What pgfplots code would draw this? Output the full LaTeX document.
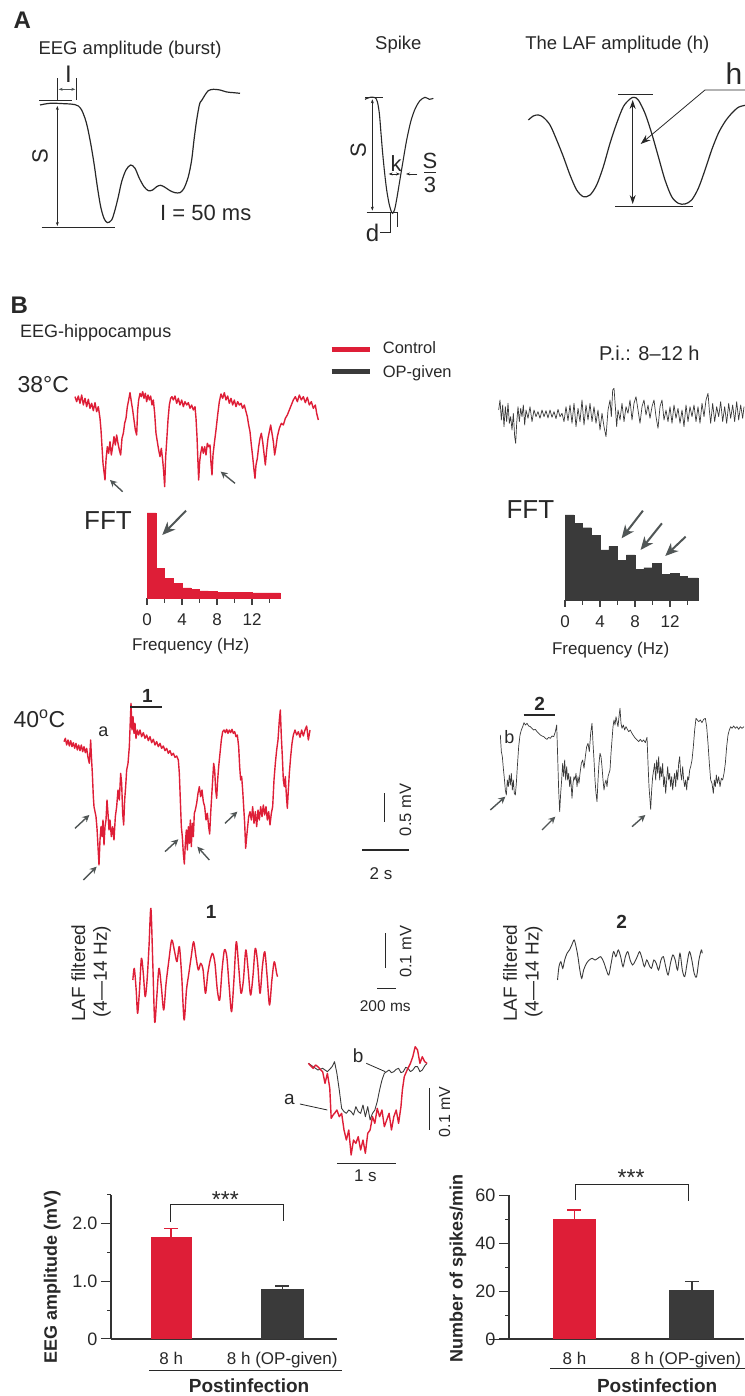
\documentclass[border=0pt]{standalone}
\usepackage{fontspec}
\setmainfont{Liberation Sans}
\usepackage{pgfplots}
\pgfplotsset{compat=1.18}
\usetikzlibrary{arrows.meta}

\definecolor{ctrl}{RGB}{222,30,55}
\definecolor{opg}{RGB}{58,58,58}
\definecolor{arr}{RGB}{80,86,86}
\definecolor{ink}{RGB}{40,40,40}

\tikzset{
  fs/.style={font=\fontsize{#1}{#1}\selectfont, text=ink},
  fsb/.style={font=\fontsize{#1}{#1}\selectfont\bfseries, text=ink},
  garr/.style={arr, line width=1.4pt, -{Stealth[length=7pt,width=7pt,inset=2.5pt]}},
  bigarr/.style={arr, line width=2pt, -{Stealth[length=13pt,width=11pt,inset=4pt]}},
  dbl/.style={ink, line width=0.6pt, {Stealth[length=4pt,width=3pt]}-{Stealth[length=4pt,width=3pt]}},
  thin/.style={ink, line width=0.8pt},
}
\pgfplotsset{
  % one axis per region of the figure, data read in that region's units
  zoomax/.style={anchor=south west, scale only axis, hide axis, y dir=reverse,
    clip=false, xmin=0, ymin=0},
  ctrltrace/.style={ctrl, line width=1.4pt, line join=round},
  optrace/.style={opg, line width=0.7pt, line join=round},
  fftax/.style={anchor=south west, scale only axis, width=133pt, height=85pt,
    xmin=0, xmax=15.2, ymin=0, ymax=100,
    axis x line=bottom, axis y line=none, axis line style={-, line width=1.8pt, black!75},
    xtick={0,4,8,12}, minor xtick={2,6,10,14}, tick align=outside,
    major tick length=7pt, minor tick length=5pt,
    every tick/.style={line width=1.5pt, black!75},
    /pgf/number format/assume math mode=true,
    xticklabel style={font=\fontsize{17}{17}\selectfont, text=ink, yshift=-5pt}, clip=false},
  barax/.style={anchor=south west, scale only axis, height=144pt,
    axis x line=bottom, axis y line=left, axis line style={-, line width=1.2pt, black!80},
    xtick={0,1}, x tick style={draw=none},
    y tick style={line width=1pt, black!80}, tick align=outside,
    major tick length=10pt, minor tick length=4pt,
    /pgf/number format/assume math mode=true,
    ticklabel style={font=\fontsize{18}{18}\selectfont, text=ink},
    xticklabel style={font=\fontsize{17}{17}\selectfont}, clip=false},
  ebar/.style={ybar, bar shift=0pt, fill=#1, draw=none,
    error bars/.cd, y dir=plus, y explicit,
    error bar style={#1, line width=1.5pt},
    error mark options={#1, rotate=90, mark size=7pt, line width=1.5pt},
    /pgfplots/.cd},
}

\begin{document}
\begin{tikzpicture}
\path[use as bounding box] (0,0) rectangle (744pt,1396pt);

% ---------------- A: EEG amplitude (burst)
\begin{axis}[zoomax, at={(0pt,1146pt)}, width=260pt, height=250pt, xmax=780, ymax=750]
\addplot[ink, line width=1.2pt, smooth] coordinates {
(120,315) (135,312) (150,310) (170,310) (190,311) (210,312) (225,314) (235,318)
(245,330) (255,355) (262,380) (272,430) (282,490) (292,560) (302,620) (312,655)
(322,668) (335,660) (345,630) (355,590) (365,545) (378,510) (392,495) (405,505)
(418,535) (432,560) (445,572) (458,570) (470,560) (482,556) (495,562) (510,572)
(525,578) (540,578) (552,565) (565,530) (575,480) (582,420) (590,360) (598,315)
(602,305) (606,300) (615,285) (625,272) (640,268) (660,270) (680,276) (700,278) (720,280)};
\node[fsb=24] at (67,60) {A};
\node[fs=18.5, anchor=west] at (105,150) {EEG amplitude (burst)};
\draw[thin] (118,302) -- (215,302);
\draw[thin] (172,235) -- (172,300);
\draw[thin] (230,235) -- (230,300);
\draw[dbl, arr] (176,268) -- (226,268);
\node[fs=24] at (205,222) {I};
\draw[dbl] (172,318) -- (172,678);
\draw[thin] (125,683) -- (345,683);
\node[fs=22, rotate=90] at (120,470) {S};
\node[fs=22, anchor=west] at (470,640) {I = 50 ms};
\end{axis}

% ---------------- A: Spike and LAF amplitude
\begin{axis}[zoomax, at={(330pt,1146pt)}, width=414pt, height=250pt, xmax=1242, ymax=750]
\addplot[ink, line width=1.1pt, smooth] coordinates {
(105,298) (120,292) (135,293) (142,305) (148,340) (153,400) (158,460) (164,520)
(170,570) (177,610) (183,632) (188,640) (194,628) (200,598) (208,550) (218,490)
(230,420) (243,362) (256,325) (270,302) (285,292) (298,298) (310,295)};
\node[fs=18.5] at (205,135) {Spike};
\draw[thin] (105,292) -- (160,292);
\draw[thin] (110,637) -- (205,637);
\draw[dbl] (127,298) -- (127,632);
\node[fs=22, rotate=90] at (85,450) {S};
\node[fs=22] at (198,492) {k};
\draw[dbl] (176,522) -- (210,522);
\draw[ink, line width=0.6pt, -{Stealth[length=4pt,width=3pt]}] (262,522) -- (228,522);
\node[fs=22] at (300,482) {S};
\draw[ink, line width=1.2pt] (282,518) -- (318,518);
\node[fs=22] at (300,555) {3};
\draw[thin] (180,640) -- (180,680);
\draw[thin] (202,640) -- (202,680);
\draw[thin] (150,698) -- (180,698) -- (180,680);
\node[fs=24] at (128,700) {d};

\addplot[ink, line width=1.2pt, smooth] coordinates {
(595,360) (610,348) (625,345) (640,352) (660,375) (680,420) (700,470) (720,525)
(740,570) (760,590) (780,585) (800,555) (820,500) (840,430) (860,370) (880,320)
(900,297) (912,292) (925,300) (945,340) (965,400) (985,470) (1005,540) (1025,590)
(1045,610) (1065,612) (1085,600) (1105,565) (1125,510) (1145,450) (1165,400)
(1185,365) (1205,340) (1225,322) (1245,316)};
\node[fs=18.5] at (862,135) {The LAF amplitude (h)};
\draw[thin] (865,282) -- (970,282);
\draw[thin] (855,618) -- (1090,618);
\draw[ink, line width=0.8pt, {Stealth[length=9pt,width=6pt]}-{Stealth[length=9pt,width=6pt]}] (908,300) -- (908,612);
\draw[ink, line width=0.8pt, -{Stealth[length=10pt,width=7pt]}] (1250,270) -- (1125,270) -- (932,432);
\node[fs=30] at (1212,222) {h};
\end{axis}

% ---------------- B: 38 C, control
\begin{axis}[zoomax, at={(0pt,876pt)}, width=372pt, height=230pt, xmax=1116, ymax=690]
\addplot[ctrltrace] coordinates {
(225,320) (230,335) (235,318) (240,340) (245,315) (250,345) (255,325) (260,350)
(265,328) (270,355) (275,340) (280,362) (285,338) (290,365) (295,350) (300,385)
(303,420) (306,470) (309,520) (312,545) (315,570) (318,510) (322,470) (326,490)
(330,455) (334,495) (338,470) (342,440) (346,465) (350,435) (354,460) (358,480)
(362,495) (366,445) (370,430) (374,400) (378,385) (382,350) (386,330) (390,308)
(394,335) (398,360) (402,390) (406,420) (410,435) (413,360) (416,330) (420,310)
(424,320) (428,305) (432,325) (436,310) (440,335) (444,315) (448,330) (452,318)
(456,345) (460,330) (464,370) (468,430) (472,455) (476,480) (480,500) (484,475)
(488,510) (491,545) (494,590) (497,500) (500,455) (504,390) (508,345) (512,325)
(516,320) (520,330) (525,318) (530,340) (535,325) (540,345) (545,330) (550,350)
(555,335) (560,345) (565,338) (570,355) (575,345) (580,360) (585,350) (588,385)
(591,440) (594,520) (596,570) (599,515) (602,490) (606,470) (610,490) (614,470)
(618,495) (622,460) (626,470) (630,465) (633,520) (636,555) (639,495) (643,460)
(648,420) (653,375) (658,335) (663,312) (668,325) (673,308) (678,330) (683,318)
(688,340) (693,325) (698,345) (703,330) (708,350) (713,335) (718,345) (723,340)
(728,355) (733,345) (738,365) (742,380) (746,405) (750,425) (754,465) (758,500)
(762,540) (765,565) (768,525) (772,505) (776,470) (780,445) (784,430) (788,455)
(792,490) (796,525) (800,480) (804,445) (808,425) (812,405) (816,430) (820,455)
(824,495) (828,470) (832,440) (838,415) (844,400) (850,405) (856,385) (862,375)
(868,360) (874,345) (880,330) (886,320) (892,335) (898,315) (904,330) (910,320)
(916,338) (922,322) (928,345) (934,335) (940,355) (946,345) (950,370) (955,390)};
\node[fsb=24] at (58,45) {B};
\node[fs=18, anchor=west] at (50,130) {EEG-hippocampus};
\node[fs=23, anchor=west] at (42,285) {38°C};
\draw[garr] (368,605) -- (330,570);
\draw[garr] (705,580) -- (662,545);
\draw[ctrl, line width=5pt] (995,180) -- (1110,180);
\draw[opg, line width=5pt] (995,245) -- (1110,245);
\end{axis}

% ---------------- B: 38 C, OP-given
\begin{axis}[zoomax, at={(372pt,876pt)}, width=372pt, height=230pt, xmax=1116, ymax=690]
\addplot[optrace] coordinates {
(380,360) (384,330) (388,390) (392,345) (396,410) (400,350) (404,395) (408,340)
(412,400) (416,380) (420,420) (424,370) (428,440) (431,460) (434,400) (438,350)
(442,395) (446,355) (450,380) (454,345) (458,405) (462,360) (468,385) (474,350)
(480,395) (486,360) (492,380) (498,365) (504,385) (510,360) (516,380) (522,362)
(528,384) (534,360) (540,382) (546,365) (552,386) (558,358) (564,380) (570,370)
(576,395) (582,350) (588,392) (594,345) (600,400) (606,340) (612,410) (618,355)
(624,395) (630,330) (636,405) (642,345) (648,390) (654,340) (660,395) (666,350)
(672,400) (678,360) (684,420) (690,370) (696,410) (702,440) (708,360) (714,330)
(718,380) (722,300) (726,295) (730,350) (734,410) (738,360) (744,390) (750,340)
(756,395) (762,350) (768,370) (774,330) (780,390) (786,340) (792,320) (798,360)
(804,400) (810,350) (816,330) (822,375) (828,345) (834,385) (840,350) (846,330)
(852,380) (858,415) (864,350) (870,330) (876,390) (882,360) (888,395) (894,350)
(900,400) (906,345) (912,385) (918,355) (924,400) (930,360) (936,410) (942,345)
(948,395) (954,350) (960,380) (966,345) (972,395) (978,350) (984,400) (990,340)
(996,380) (1002,330) (1008,310) (1012,360) (1016,400) (1022,340) (1028,395)
(1034,350) (1040,380) (1046,335) (1052,395) (1058,350) (1064,400) (1070,340)
(1076,385) (1082,345) (1088,395) (1094,335) (1100,390) (1106,345) (1112,385) (1116,350)};
\node[fs=16.5, anchor=west] at (22,172) {Control};
\node[fs=16.5, anchor=west] at (22,250) {OP-given};
\node[fs=20] at (832,190) {P.i.: 8–12 h};
\end{axis}

% ---------------- FFT labels and arrows
\begin{axis}[zoomax, at={(0pt,736pt)}, width=744pt, height=170pt, xmax=1568, ymax=510]
\addplot[draw=none] coordinates {(0,0)};
\node[fs=26, anchor=west] at (170,92) {FFT};
\node[fs=26, anchor=west] at (1060,60) {FFT};
\node[fs=17] at (402,467) {Frequency (Hz)};
\node[fs=17] at (1287,480) {Frequency (Hz)};
\draw[bigarr] (392,62) -- (342,135);
\draw[bigarr] (1355,62) -- (1310,145);
\draw[bigarr] (1395,100) -- (1350,180);
\draw[bigarr] (1445,140) -- (1402,198);
\end{axis}

% ---------------- FFT, control
\begin{axis}[fftax, at={(147pt,798pt)}]
\addplot[ybar interval, fill=ctrl, draw=ctrl, line width=0.3pt] coordinates {
(0,100) (1,35) (2,23.5) (3,17) (4,12) (5,10) (6,8.5) (7,7.5) (8,7) (9,6.5)
(10,6.5) (11,6.5) (12,6) (13,6) (14,6) (15.2,6)};
\end{axis}

% ---------------- FFT, OP-given
\begin{axis}[fftax, at={(565pt,796pt)}]
\addplot[ybar interval, fill=opg, draw=opg, line width=0.3pt] coordinates {
(0,100) (1,90) (2,85) (3,76) (4,59) (5,63) (6,47) (7,53) (8,36) (9,38)
(10,43) (11,30) (12,31) (13,28) (14,26) (15.2,26)};
\end{axis}

% ---------------- B: 40 C, control
\begin{axis}[zoomax, at={(0pt,496pt)}, width=372pt, height=220pt, xmax=1116, ymax=660]
\addplot[ctrltrace] coordinates {
(192,185) (196,175) (200,195) (204,180) (208,198) (212,182) (216,200) (220,188)
(224,205) (228,190) (232,210) (236,195) (240,212) (244,195) (248,215) (252,200)
(256,218) (260,205) (264,232) (268,250) (272,180) (274,225) (277,280) (280,350)
(282,380) (285,395) (288,410) (291,445) (294,500) (297,555) (300,480) (303,440)
(306,470) (309,420) (312,495) (315,440) (318,420) (321,360) (324,400) (327,450)
(330,420) (334,470) (338,440) (342,480) (346,410) (350,380) (354,330) (358,360)
(362,280) (365,310) (368,400) (371,435) (374,360) (377,320) (380,270) (384,250)
(388,200) (391,120) (393,70) (396,150) (399,110) (402,160) (405,130) (408,175)
(412,150) (416,165) (420,150) (425,170) (430,158) (435,175) (440,165) (445,182)
(450,170) (455,188) (460,178) (465,195) (470,185) (475,200) (480,190) (485,205)
(490,198) (495,212) (500,205) (505,220) (510,212) (515,226) (520,220) (525,232)
(530,228) (535,240) (538,280) (541,360) (544,440) (547,470) (550,520) (553,552)
(556,490) (559,450) (562,510) (565,440) (568,490) (571,420) (574,500) (577,430)
(580,470) (583,400) (586,390) (590,370) (594,340) (598,320) (602,350) (606,330)
(610,365) (614,380) (618,420) (622,400) (626,440) (629,462) (632,400) (635,350)
(638,300) (641,250) (644,270) (647,330) (650,355) (653,300) (656,260) (660,220)
(664,180) (668,155) (672,150) (676,158) (680,148) (684,160) (688,150) (692,158)
(696,148) (700,160) (704,155) (708,170) (712,165) (716,200) (719,260) (722,300)
(725,290) (728,330) (731,380) (734,430) (737,505) (740,470) (743,440) (746,410)
(750,395) (754,420) (758,380) (762,430) (766,395) (770,440) (774,390) (778,420)
(782,380) (786,410) (790,375) (794,405) (798,380) (802,420) (806,395) (810,435)
(814,400) (818,380) (822,300) (826,250) (830,210) (834,180) (838,120) (841,90)
(844,170) (847,230) (850,300) (853,320) (856,290) (859,345) (862,385) (865,330)
(868,280) (872,230) (876,190) (880,165) (885,150) (890,165) (895,155) (900,172)
(905,150) (910,168) (915,150) (920,138) (925,180) (930,150)};
\node[fs=23, anchor=west] at (30,115) {40\textsuperscript{o}C};
\node[fs=18] at (310,155) {a};
\draw[ink, line width=2pt] (390,82) -- (485,82);
\node[fsb=19] at (442,48) {1};
\draw[garr] (225,445) -- (268,405);
\draw[garr] (250,600) -- (290,560);
\draw[garr] (495,515) -- (535,478);
\draw[garr] (628,540) -- (592,500);
\draw[garr] (675,430) -- (712,395);
\end{axis}

% ---------------- B: 40 C, OP-given, and scale bars
\begin{axis}[zoomax, at={(372pt,496pt)}, width=372pt, height=220pt, xmax=1116, ymax=660]
\addplot[optrace] coordinates {
(385,165) (388,215) (391,230) (394,265) (397,295) (400,330) (403,345) (406,300)
(409,320) (412,285) (415,315) (418,280) (421,330) (424,300) (427,340) (430,345)
(433,310) (436,260) (440,200) (444,165) (448,150) (452,140) (456,128) (460,135)
(465,130) (470,138) (475,140) (480,145) (485,150) (490,148) (495,155) (500,160)
(505,165) (510,168) (515,170) (520,175) (525,178) (530,172) (535,175) (540,168)
(545,170) (550,155) (554,135) (557,230) (560,330) (563,395) (566,340) (569,300)
(572,250) (575,290) (578,240) (581,300) (584,260) (587,300) (590,280) (593,320)
(596,290) (600,355) (603,310) (606,290) (609,300) (612,280) (615,320) (618,290)
(621,310) (624,280) (628,250) (632,240) (636,265) (640,230) (644,200) (648,190)
(652,215) (656,160) (660,130) (663,190) (666,240) (669,300) (672,340) (675,365)
(678,300) (681,250) (684,220) (687,230) (690,260) (693,300) (696,330) (699,310)
(702,300) (705,320) (708,290) (711,280) (714,270) (717,220) (720,180) (723,140)
(726,120) (729,135) (732,110) (735,125) (738,140) (741,110) (744,85) (747,130)
(750,145) (754,135) (758,150) (762,140) (766,148) (770,155) (775,150) (780,160)
(785,168) (790,175) (795,180) (800,185) (805,178) (810,185) (815,180) (820,188)
(825,172) (828,250) (831,320) (834,360) (836,388) (839,330) (842,290) (845,270)
(848,250) (851,300) (854,240) (857,280) (860,230) (863,300) (866,260) (869,290)
(872,250) (875,320) (878,290) (881,340) (884,300) (887,260) (890,300) (893,280)
(896,320) (899,290) (902,330) (905,300) (908,280) (911,320) (914,270) (917,300)
(920,250) (923,230) (926,280) (929,300) (932,260) (935,300) (938,320) (941,300)
(944,330) (947,290) (950,300) (953,270) (956,260) (960,240) (964,200) (968,150)
(972,115) (976,120) (980,125) (985,120) (990,128) (995,118) (1000,115) (1004,140)
(1008,190) (1012,250) (1016,300) (1020,310) (1024,340) (1027,300) (1030,320)
(1033,285) (1036,310) (1040,290) (1044,320) (1048,295) (1052,300) (1056,280)
(1060,250) (1064,200) (1068,165) (1072,150) (1076,140) (1080,145) (1085,138)
(1090,145) (1095,140) (1100,148) (1105,140) (1110,145) (1116,140)};
\node[fs=18] at (412,170) {b};
\draw[ink, line width=2pt] (455,105) -- (550,105);
\node[fsb=19] at (503,72) {2};
\draw[garr] (355,390) -- (400,350);
\draw[garr] (510,450) -- (550,410);
\draw[garr] (780,440) -- (820,405);
\draw[ink, line width=1.2pt] (38,340) -- (38,425);
\draw[ink, line width=1.2pt] (-30,510) -- (112,510);
\node[fs=16.5, rotate=90] at (100,390) {0.5 mV};
\node[fs=17] at (27,580) {2 s};
\end{axis}

% ---------------- LAF filtered traces
\begin{axis}[zoomax, at={(0pt,356pt)}, width=744pt, height=160pt, xmax=1568, ymax=480]
\addplot[ctrltrace, smooth] coordinates {
(280,300) (283,265) (287,330) (290,400) (294,330) (298,235) (302,280) (306,350)
(310,300) (314,200) (318,85) (322,250) (326,425) (330,360) (335,265) (340,320)
(345,390) (350,310) (356,240) (362,180) (368,215) (373,245) (378,200) (383,290)
(388,420) (393,330) (398,280) (403,230) (408,185) (413,230) (418,270) (423,250)
(428,270) (433,340) (438,280) (443,240) (448,220) (453,250) (458,330) (463,360)
(468,270) (473,210) (478,230) (483,320) (488,395) (493,300) (498,185) (503,260)
(508,340) (513,300) (518,210) (523,270) (528,345) (533,290) (538,205) (543,250)
(548,340) (553,260) (558,215) (563,290) (568,375) (573,300) (578,245) (583,280) (585,290)};
\addplot[opg, line width=0.9pt, smooth] coordinates {
(1175,300) (1178,260) (1182,245) (1186,265) (1190,240) (1195,220) (1200,210)
(1205,195) (1210,180) (1214,200) (1218,230) (1222,270) (1226,295) (1230,270)
(1236,250) (1242,240) (1248,235) (1254,240) (1260,235) (1266,230) (1272,245)
(1278,270) (1283,285) (1288,250) (1293,215) (1298,230) (1303,210) (1308,230)
(1313,260) (1318,230) (1323,215) (1328,240) (1333,255) (1338,245) (1343,230)
(1348,215) (1353,235) (1358,260) (1363,240) (1368,255) (1373,265) (1378,240)
(1383,250) (1388,270) (1393,240) (1398,230) (1403,260) (1408,285) (1413,250)
(1418,225) (1423,240) (1428,270) (1433,220) (1438,270) (1443,290) (1448,250)
(1453,215) (1458,240) (1463,280) (1468,290) (1473,240) (1478,210) (1480,220)};
\node[fs=19, rotate=90] at (165,280) {LAF filtered};
\node[fs=19, rotate=90] at (215,275) {(4—14 Hz)};
\node[fs=19, rotate=90] at (1075,280) {LAF filtered};
\node[fs=19, rotate=90] at (1125,275) {(4—14 Hz)};
\node[fsb=19] at (445,95) {1};
\node[fsb=19] at (1310,125) {2};
\draw[ink, line width=1.2pt] (812,160) -- (812,265);
\draw[ink, line width=1.2pt] (795,325) -- (835,325);
\node[fs=16.5, rotate=90] at (855,215) {0.1 mV};
\node[fs=15.5] at (812,380) {200 ms};
\end{axis}

% ---------------- overlay a/b and bar chart annotations
\begin{axis}[zoomax, at={(0pt,0pt)}, width=744pt, height=366pt, xmax=1568, ymax=1098]
\addplot[optrace, line width=0.9pt] coordinates {
(650,100) (660,110) (670,120) (680,115) (690,125) (700,110) (705,95) (710,130)
(715,180) (720,235) (725,245) (730,250) (735,240) (740,245) (745,255) (750,230)
(755,245) (760,250) (765,225) (770,260) (775,230) (780,270) (785,250) (790,240)
(795,215) (800,180) (805,150) (810,130) (815,125) (820,120) (825,128) (830,125)
(835,118) (840,115) (845,128) (850,125) (855,112) (860,115) (865,125) (870,120)
(875,110) (880,110) (885,125) (890,120) (895,108) (900,100)};
\addplot[ctrltrace] coordinates {
(650,100) (655,108) (660,115) (665,105) (670,110) (675,118) (680,125) (685,160)
(690,130) (695,175) (698,265) (702,255) (705,250) (710,240) (715,260) (720,250)
(725,300) (730,330) (735,300) (740,375) (745,330) (750,340) (755,320) (760,360)
(765,330) (770,370) (775,310) (780,300) (785,260) (790,280) (795,235) (800,260)
(805,240) (810,290) (815,270) (820,250) (825,300) (830,260) (835,240) (840,280)
(845,230) (848,180) (852,140) (858,120) (865,100) (870,80) (875,50) (880,60)
(885,100) (890,80) (895,95) (900,100)};
\node[fs=19] at (755,78) {b};
\draw[ink, line width=0.8pt] (772,100) -- (812,125);
\node[fs=19] at (610,208) {a};
\draw[ink, line width=0.8pt] (632,222) -- (690,240);
\draw[ink, line width=1.2pt] (905,175) -- (905,300);
\node[fs=16, rotate=90] at (937,245) {0.1 mV};
\draw[ink, line width=1.5pt] (710,400) -- (835,400);
\node[fs=17] at (770,437) {1 s};
% significance and group labels
\draw[ink, line width=0.8pt] (360,575) -- (360,522) -- (597,522) -- (597,572);
\node[fs=23] at (475,508) {***};
\draw[ink, line width=0.8pt] (1212,510) -- (1212,462) -- (1450,462) -- (1450,512);
\node[fs=23] at (1330,443) {***};
\draw[ink, line width=0.8pt] (315,1020) -- (720,1020);
\node[fsb=19] at (525,1068) {Postinfection};
\draw[ink, line width=0.8pt] (1160,1015) -- (1600,1015);
\node[fsb=19] at (1385,1068) {Postinfection};
\node[fsb=18, rotate=90] at (110,740) {EEG amplitude (mV)};
\node[fsb=18, rotate=90] at (965,715) {Number of spikes/min};
\draw[black!80, line width=1.2pt] (1030,928) -- (1072,928);
\end{axis}

% ---------------- EEG amplitude bars
\begin{axis}[barax, at={(111pt,57pt)}, width=226pt,
  xmin=-0.542, xmax=1.493, ymin=0, ymax=2.5,
  xticklabels={8 h, 8 h (OP-given)},
  ytick={0,1,2}, yticklabels={0,1.0,2.0}, minor ytick={0.5,1.5,2.5}]
\addplot[bar width=41pt, ebar=ctrl] coordinates {(0,1.77) +- (0,0.15)};
\addplot[bar width=43pt, ebar=opg] coordinates {(1,0.86) +- (0,0.06)};
\end{axis}

% ---------------- spike count bars
\begin{axis}[barax, at={(509pt,57pt)}, width=235pt,
  xmin=-0.558, xmax=1.445, ymin=0, ymax=60,
  xticklabels={8 h, 8 h (OP-given)\kern12pt},
  ytick={0,20,40,60}, minor ytick={10,30,50}]
\addplot[bar width=43pt, ebar=ctrl] coordinates {(0,49.9) +- (0,3.9)};
\addplot[bar width=45pt, ebar=opg] coordinates {(1,20.5) +- (0,3.5)};
\end{axis}

\end{tikzpicture}
\end{document}
